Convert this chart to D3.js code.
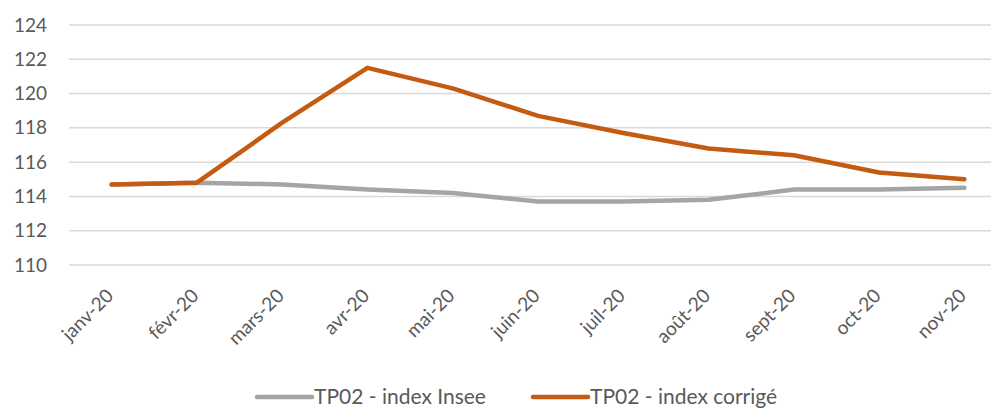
<!DOCTYPE html>
<html>
<head>
<meta charset="utf-8">
<script src="https://cdn.jsdelivr.net/npm/d3@7"></script>
<style>
  body { margin: 0; background: #fff; }
  text { font-family: Lato, "Open Sans", sans-serif; fill: #595959; }
</style>
</head>
<body>
<svg id="chart"></svg>
<script>
// months on the x axis
const months = ["janv-20", "févr-20", "mars-20", "avr-20", "mai-20", "juin-20",
                "juil-20", "août-20", "sept-20", "oct-20", "nov-20"];
// TP02 index published by Insee
const inseeValues = [114.7, 114.8, 114.7, 114.4, 114.2, 113.7, 113.7, 113.8, 114.4, 114.4, 114.5];
// TP02 corrected index
const correctedValues = [114.7, 114.8, 118.3, 121.5, 120.3, 118.7, 117.7, 116.8, 116.4, 115.4, 115.0];
const yTicks = [110, 112, 114, 116, 118, 120, 122, 124];

const series = [
    { name: "TP02 - index Insee", values: inseeValues, color: "#A5A5A5" },
    { name: "TP02 - index corrigé", values: correctedValues, color: "#C55A11" }
];

const W = 991, H = 408;
const margin = { top: 25, right: -16, bottom: 143, left: 69 };
const width = W - margin.left - margin.right;
const height = H - margin.top - margin.bottom;

const svg = d3.select("#chart")
    .attr("width", W)
    .attr("height", H);

const g = svg.append("g")
    .attr("transform", `translate(${margin.left},${margin.top})`);

const x = d3.scalePoint()
    .domain(months)
    .range([0, width])
    .padding(0.5);

const y = d3.scaleLinear()
    .domain([110, 124])
    .range([height, 0]);

// gridlines
g.append("g")
    .selectAll("line")
    .data(yTicks)
    .join("line")
    .attr("x1", 0)
    .attr("x2", W - margin.left)
    .attr("y1", d => y(d))
    .attr("y2", d => y(d))
    .attr("stroke", "#D9D9D9")
    .attr("stroke-width", 1.5);

// y axis labels
const yAxis = g.append("g")
    .call(d3.axisLeft(y).tickValues(yTicks).tickSize(0).tickPadding(22));
yAxis.select(".domain").remove();
yAxis.selectAll("text")
    .style("font-size", "19px")
    .attr("fill", "#595959");

// x axis labels, rotated
g.append("g")
    .selectAll("text")
    .data(months)
    .join("text")
    .attr("transform", d => `translate(${x(d) + 3},${height + 32}) rotate(-45)`)
    .attr("text-anchor", "end")
    .style("font-size", "19px")
    .text(d => d);

// lines
const line = d3.line()
    .x((d, i) => x(months[i]))
    .y(d => y(d));

g.selectAll(".series")
    .data(series)
    .join("path")
    .attr("class", "series")
    .attr("d", d => line(d.values))
    .attr("fill", "none")
    .attr("stroke", d => d.color)
    .attr("stroke-width", 4.5)
    .attr("stroke-linecap", "round")
    .attr("stroke-linejoin", "round");

// legend
const legendPos = [257, 533];
const legend = svg.append("g")
    .selectAll("g")
    .data(series)
    .join("g")
    .attr("transform", (d, i) => `translate(${legendPos[i]},397)`);

legend.append("line")
    .attr("x1", 0)
    .attr("x2", 55)
    .attr("stroke", d => d.color)
    .attr("stroke-width", 4.5)
    .attr("stroke-linecap", "round");

legend.append("text")
    .attr("x", 57)
    .attr("dy", "0.35em")
    .style("font-size", "21px")
    .text(d => d.name);
</script>
</body>
</html>
